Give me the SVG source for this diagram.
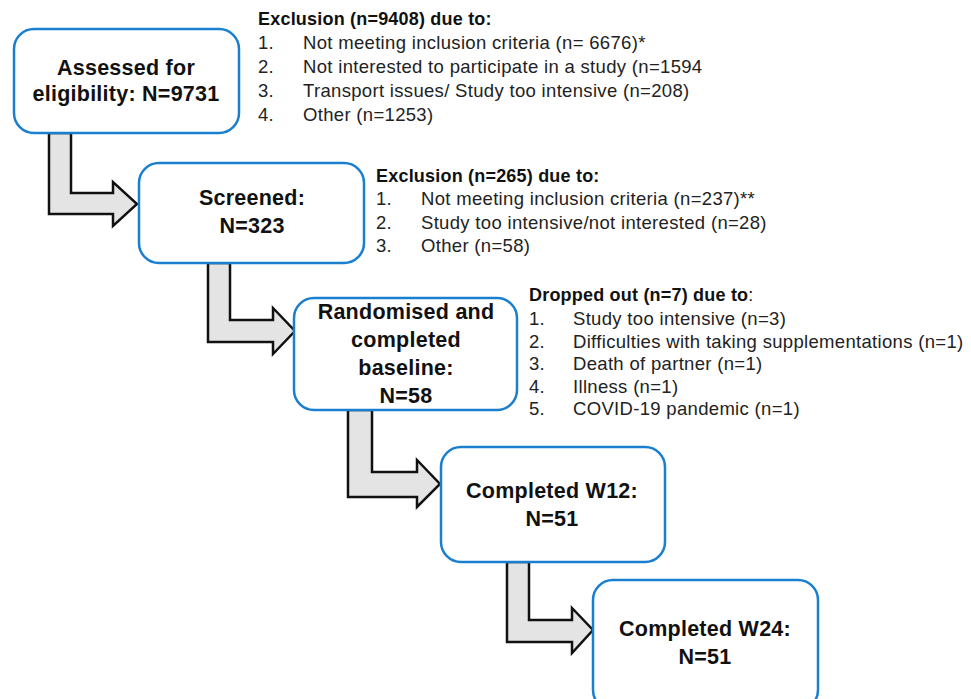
<svg xmlns="http://www.w3.org/2000/svg" width="971" height="699" viewBox="0 0 971 699">
<style>
.box{fill:#ffffff;stroke:#1a7fcf;stroke-width:2.5}
.arr{fill:#e4e4e4;stroke:#111111;stroke-width:2.5;stroke-linejoin:miter}
.lbl{font-family:"Liberation Sans",Arial,sans-serif;font-weight:bold;font-size:21.5px;letter-spacing:0.25px;fill:#111111;text-anchor:middle}
.hd{font-family:"Liberation Sans",Arial,sans-serif;font-weight:bold;font-size:18px;letter-spacing:0.2px;fill:#111111}
.it{font-family:"Liberation Sans",Arial,sans-serif;font-size:18.5px;letter-spacing:0.32px;fill:#222222}
</style>
<rect width="971" height="699" fill="#ffffff"/>
<g id="connectors">
<polygon class="arr" points="49,133 71,133 71,193 113,193 113,182 137,204 113,226 113,214 49,214"/>
<polygon class="arr" points="208,263 230,263 230,320 273,320 273,308 295,331 273,354 273,342 208,342"/>
<polygon class="arr" points="348,410 372,410 372,472 417,472 417,460 440,484 417,507 417,497 348,497"/>
<polygon class="arr" points="507,562 529,562 529,620 572,620 572,608 593,630 572,653 572,642 507,642"/>
</g>
<g id="n1">
<rect class="box" x="14" y="29" width="225" height="104" rx="20"/>
<text class="lbl" x="126" y="75">Assessed for</text>
<text class="lbl" x="126" y="101">eligibility: N=9731</text>
</g>
<g id="n2">
<rect class="box" x="139" y="163" width="225" height="100" rx="20"/>
<text class="lbl" x="252" y="205">Screened:</text>
<text class="lbl" x="252" y="233">N=323</text>
</g>
<g id="n3">
<rect class="box" x="294" y="298" width="223" height="112" rx="20"/>
<text class="lbl" x="406" y="319">Randomised and</text>
<text class="lbl" x="406" y="347">completed</text>
<text class="lbl" x="406" y="375">baseline:</text>
<text class="lbl" x="406" y="403">N=58</text>
</g>
<g id="n4">
<rect class="box" x="441" y="447" width="224" height="115" rx="20"/>
<text class="lbl" x="552" y="498">Completed W12:</text>
<text class="lbl" x="552" y="526">N=51</text>
</g>
<g id="n5">
<rect class="box" x="593" y="580" width="225" height="130" rx="20"/>
<text class="lbl" x="705" y="636">Completed W24:</text>
<text class="lbl" x="705" y="664">N=51</text>
</g>
<g id="t1">
<text class="hd" x="258" y="25">Exclusion (n=9408) due to:</text>
<text class="it" x="258" y="49">1.</text><text class="it" x="303" y="49">Not meeting inclusion criteria (n= 6676)*</text>
<text class="it" x="258" y="73">2.</text><text class="it" x="303" y="73">Not interested to participate in a study (n=1594</text>
<text class="it" x="258" y="97">3.</text><text class="it" x="303" y="97">Transport issues/ Study too intensive (n=208)</text>
<text class="it" x="258" y="121">4.</text><text class="it" x="303" y="121">Other (n=1253)</text>
</g>
<g id="t2">
<text class="hd" x="376" y="182">Exclusion (n=265) due to:</text>
<text class="it" x="376" y="205">1.</text><text class="it" x="421" y="205">Not meeting inclusion criteria (n=237)**</text>
<text class="it" x="376" y="229">2.</text><text class="it" x="421" y="229">Study too intensive/not interested (n=28)</text>
<text class="it" x="376" y="252">3.</text><text class="it" x="421" y="252">Other (n=58)</text>
</g>
<g id="t3">
<text class="hd" x="529" y="301">Dropped out (n=7) due to<tspan font-weight="normal">:</tspan></text>
<text class="it" x="529" y="325">1.</text><text class="it" x="573" y="325">Study too intensive (n=3)</text>
<text class="it" x="529" y="348">2.</text><text class="it" x="573" y="348">Difficulties with taking supplementations (n=1)</text>
<text class="it" x="529" y="370">3.</text><text class="it" x="573" y="370">Death of partner (n=1)</text>
<text class="it" x="529" y="393">4.</text><text class="it" x="573" y="393">Illness (n=1)</text>
<text class="it" x="529" y="415">5.</text><text class="it" x="573" y="415">COVID-19 pandemic (n=1)</text>
</g>
</svg>
